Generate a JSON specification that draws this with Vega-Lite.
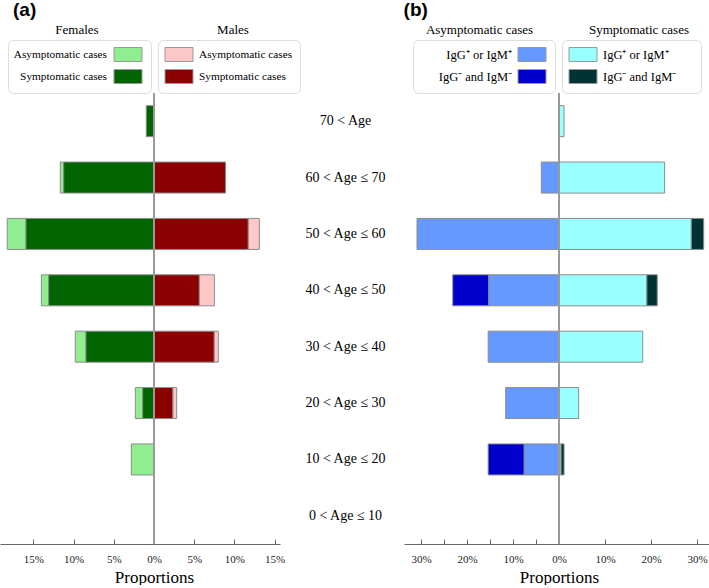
{
  "$schema": "https://vega.github.io/schema/vega-lite/v6.json",
  "padding": 0,
  "autosize": {"type": "pad"},
  "config": {
    "view": {"stroke": null},
    "font": "Liberation Serif",
    "axis": {"domainColor": "#666", "tickColor": "#666", "labelFont": "Liberation Serif", "labelFontSize": 11, "labelColor": "#222", "titleFont": "Liberation Serif", "titleFontSize": 17, "titleFontWeight": "normal", "titleColor": "#000", "grid": false, "labelFlush": false, "labelOverlap": false},
    "legend": {"orient": "none", "direction": "vertical", "strokeColor": "#dddddd", "cornerRadius": 5, "padding": 7, "rowPadding": 3, "symbolType": "M-2,-1H2V1H-2Z", "symbolSize": 196, "symbolStrokeColor": "#999999", "symbolStrokeWidth": 1, "symbolOpacity": 1, "labelFont": "Liberation Serif", "labelFontSize": 11.3, "labelColor": "#000"},
    "title": {"font": "Liberation Serif", "fontSize": 13, "fontWeight": "normal", "color": "#000"}
  },
  "datasets": {
    "a": [
      {"sex": "Female", "age": "70 < Age", "status": "Symptomatic cases", "value": 0.96},
      {"sex": "Female", "age": "60 < Age ≤ 70", "status": "Asymptomatic cases", "value": 0.42},
      {"sex": "Female", "age": "60 < Age ≤ 70", "status": "Symptomatic cases", "value": 11.23},
      {"sex": "Female", "age": "50 < Age ≤ 60", "status": "Asymptomatic cases", "value": 2.33},
      {"sex": "Female", "age": "50 < Age ≤ 60", "status": "Symptomatic cases", "value": 15.92},
      {"sex": "Female", "age": "40 < Age ≤ 50", "status": "Asymptomatic cases", "value": 0.91},
      {"sex": "Female", "age": "40 < Age ≤ 50", "status": "Symptomatic cases", "value": 13.1},
      {"sex": "Female", "age": "30 < Age ≤ 40", "status": "Asymptomatic cases", "value": 1.33},
      {"sex": "Female", "age": "30 < Age ≤ 40", "status": "Symptomatic cases", "value": 8.46},
      {"sex": "Female", "age": "20 < Age ≤ 30", "status": "Asymptomatic cases", "value": 0.91},
      {"sex": "Female", "age": "20 < Age ≤ 30", "status": "Symptomatic cases", "value": 1.41},
      {"sex": "Female", "age": "10 < Age ≤ 20", "status": "Asymptomatic cases", "value": 2.82},
      {"sex": "Male", "age": "60 < Age ≤ 70", "status": "Symptomatic cases", "value": 8.9},
      {"sex": "Male", "age": "50 < Age ≤ 60", "status": "Symptomatic cases", "value": 11.73},
      {"sex": "Male", "age": "50 < Age ≤ 60", "status": "Asymptomatic cases", "value": 1.37},
      {"sex": "Male", "age": "40 < Age ≤ 50", "status": "Symptomatic cases", "value": 5.64},
      {"sex": "Male", "age": "40 < Age ≤ 50", "status": "Asymptomatic cases", "value": 1.87},
      {"sex": "Male", "age": "30 < Age ≤ 40", "status": "Symptomatic cases", "value": 7.5},
      {"sex": "Male", "age": "30 < Age ≤ 40", "status": "Asymptomatic cases", "value": 0.5},
      {"sex": "Male", "age": "20 < Age ≤ 30", "status": "Symptomatic cases", "value": 2.36},
      {"sex": "Male", "age": "20 < Age ≤ 30", "status": "Asymptomatic cases", "value": 0.46}
    ],
    "b": [
      {"group": "Asymptomatic", "age": "60 < Age ≤ 70", "result": "IgG⁺ or IgM⁺", "value": 3.85},
      {"group": "Asymptomatic", "age": "50 < Age ≤ 60", "result": "IgG⁺ or IgM⁺", "value": 30.87},
      {"group": "Asymptomatic", "age": "40 < Age ≤ 50", "result": "IgG⁺ or IgM⁺", "value": 15.3},
      {"group": "Asymptomatic", "age": "40 < Age ≤ 50", "result": "IgG⁻ and IgM⁻", "value": 7.8},
      {"group": "Asymptomatic", "age": "30 < Age ≤ 40", "result": "IgG⁺ or IgM⁺", "value": 15.4},
      {"group": "Asymptomatic", "age": "20 < Age ≤ 30", "result": "IgG⁺ or IgM⁺", "value": 11.6},
      {"group": "Asymptomatic", "age": "10 < Age ≤ 20", "result": "IgG⁺ or IgM⁺", "value": 7.6},
      {"group": "Asymptomatic", "age": "10 < Age ≤ 20", "result": "IgG⁻ and IgM⁻", "value": 7.8},
      {"group": "Symptomatic", "age": "70 < Age", "result": "IgG⁺ or IgM⁺", "value": 1.09},
      {"group": "Symptomatic", "age": "60 < Age ≤ 70", "result": "IgG⁺ or IgM⁺", "value": 22.96},
      {"group": "Symptomatic", "age": "50 < Age ≤ 60", "result": "IgG⁺ or IgM⁺", "value": 28.76},
      {"group": "Symptomatic", "age": "50 < Age ≤ 60", "result": "IgG⁻ and IgM⁻", "value": 2.68},
      {"group": "Symptomatic", "age": "40 < Age ≤ 50", "result": "IgG⁺ or IgM⁺", "value": 19.1},
      {"group": "Symptomatic", "age": "40 < Age ≤ 50", "result": "IgG⁻ and IgM⁻", "value": 2.25},
      {"group": "Symptomatic", "age": "30 < Age ≤ 40", "result": "IgG⁺ or IgM⁺", "value": 18.2},
      {"group": "Symptomatic", "age": "20 < Age ≤ 30", "result": "IgG⁺ or IgM⁺", "value": 4.27},
      {"group": "Symptomatic", "age": "10 < Age ≤ 20", "result": "IgG⁺ or IgM⁺", "value": 0.45},
      {"group": "Symptomatic", "age": "10 < Age ≤ 20", "result": "IgG⁻ and IgM⁻", "value": 0.65}
    ]
  },
  "resolve": {"scale": {"color": "independent"}},
  "spacing": 3,
  "hconcat": [
    {
      "title": {"text": "(a)", "anchor": "start", "font": "Liberation Sans", "fontSize": 19, "fontWeight": "bold", "dx": 13, "offset": 4},
      "bounds": "flush",
      "spacing": 0,
      "resolve": {"scale": {"color": "independent"}},
      "hconcat": [
        {
          "title": {"text": "Females", "anchor": "middle", "frame": "group", "offset": 3},
          "width": 154,
          "height": 451,
          "data": {"name": "a"},
          "transform": [{"filter": "datum.sex === 'Female'"}],
          "mark": {"type": "bar", "stroke": "#8c8c8c", "strokeWidth": 1},
          "encoding": {
            "y": {"field": "age", "type": "nominal", "axis": null, "scale": {"domain": ["70 < Age", "60 < Age ≤ 70", "50 < Age ≤ 60", "40 < Age ≤ 50", "30 < Age ≤ 40", "20 < Age ≤ 30", "10 < Age ≤ 20", "0 < Age ≤ 10"], "paddingInner": 0.45, "paddingOuter": 0.225}},
            "x": {"field": "value", "type": "quantitative", "stack": "zero", "scale": {"domain": [0, 19.15], "reverse": true, "nice": false, "zero": true}, "axis": {"values": [5, 10, 15], "labelExpr": "datum.value + '%'", "title": null, "tickSize": -5, "labelPadding": 14, "labelFont": "Liberation Serif", "labelFontSize": 11}},
            "color": {"field": "status", "type": "nominal", "scale": {"domain": ["Asymptomatic cases", "Symptomatic cases"], "range": ["#90EE90", "#006400"]}, "legend": {"title": null, "legendX": 8, "legendY": -53, "labelAlign": "right", "labelOffset": -28.5, "symbolOffset": 105.5}},
            "order": {"field": "status", "sort": "descending"}
          }
        },
        {
          "title": {"text": "Males", "anchor": "middle", "frame": "group", "offset": 3, "dx": 16},
          "width": 126,
          "height": 451,
          "data": {"name": "a"},
          "transform": [{"filter": "datum.sex === 'Male'"}],
          "layer": [
            {
              "mark": {"type": "bar", "stroke": "#8c8c8c", "strokeWidth": 1},
              "encoding": {
                "y": {"field": "age", "type": "nominal", "axis": null, "scale": {"domain": ["70 < Age", "60 < Age ≤ 70", "50 < Age ≤ 60", "40 < Age ≤ 50", "30 < Age ≤ 40", "20 < Age ≤ 30", "10 < Age ≤ 20", "0 < Age ≤ 10"], "paddingInner": 0.45, "paddingOuter": 0.225}},
                "x": {"field": "value", "type": "quantitative", "stack": "zero", "scale": {"domain": [0, 15.67], "nice": false}, "axis": {"values": [0, 5, 10, 15], "labelExpr": "datum.value + '%'", "title": "Proportions", "titleAnchor": "start", "titleAlign": "center", "titlePadding": 5, "tickSize": -5, "labelPadding": 14, "labelFont": "Liberation Serif", "labelFontSize": 11, "titleFont": "Liberation Serif", "titleFontSize": 17, "titleFontWeight": "normal"}},
                "color": {"field": "status", "type": "nominal", "scale": {"domain": ["Asymptomatic cases", "Symptomatic cases"], "range": ["#FFC8C8", "#8B0000"]}, "legend": {"title": null, "legendX": 4, "legendY": -53, "labelOffset": 12.5, "symbolOffset": 6.5}},
                "order": {"field": "status", "sort": "descending"}
              }
            },
            {
              "mark": {"type": "rule", "color": "#9a9a9a", "strokeWidth": 1},
              "encoding": {"x": {"datum": 0}}
            }
          ]
        }
      ]
    },
    {
      "title": {"text": "(b)", "anchor": "start", "font": "Liberation Sans", "fontSize": 19, "fontWeight": "bold", "dx": 99, "offset": 4},
      "bounds": "flush",
      "spacing": 0,
      "resolve": {"scale": {"color": "independent"}},
      "hconcat": [
        {
          "title": {"text": "Asymptomatic cases", "anchor": "middle", "frame": "group", "offset": 3, "dx": -2},
          "width": 155,
          "height": 451,
          "data": {"name": "b"},
          "transform": [{"filter": "datum.group === 'Asymptomatic'"}],
          "mark": {"type": "bar", "stroke": "#8c8c8c", "strokeWidth": 1},
          "encoding": {
            "y": {"field": "age", "type": "nominal", "title": null, "axis": {"domain": false, "ticks": false, "labelAlign": "center", "labelBaseline": "middle", "labelPadding": 59, "labelFont": "Liberation Serif", "labelFontSize": 14, "labelColor": "#000"}, "scale": {"domain": ["70 < Age", "60 < Age ≤ 70", "50 < Age ≤ 60", "40 < Age ≤ 50", "30 < Age ≤ 40", "20 < Age ≤ 30", "10 < Age ≤ 20", "0 < Age ≤ 10"], "paddingInner": 0.45, "paddingOuter": 0.225}},
            "x": {"field": "value", "type": "quantitative", "stack": "zero", "scale": {"domain": [0, 33.7], "reverse": true, "nice": false}, "axis": {"values": [0, 5, 10, 15, 20, 25, 30], "labelExpr": "datum.value % 10 == 0 && datum.value > 0 ? datum.value + '%' : ''", "title": null, "tickSize": -5, "labelPadding": 14, "labelFont": "Liberation Serif", "labelFontSize": 11}},
            "color": {"field": "result", "type": "nominal", "scale": {"domain": ["IgG⁺ or IgM⁺", "IgG⁻ and IgM⁻"], "range": ["#6699FF", "#0000CC"]}, "legend": {"title": null, "legendX": 9, "legendY": -53, "labelFontSize": 12.5, "labelAlign": "right", "labelOffset": -27.5, "symbolOffset": 104.5}},
            "order": {"field": "result", "sort": "ascending"}
          }
        },
        {
          "title": {"text": "Symptomatic cases", "anchor": "middle", "frame": "group", "offset": 3, "dx": 5},
          "width": 150,
          "height": 451,
          "data": {"name": "b"},
          "transform": [{"filter": "datum.group === 'Symptomatic'"}],
          "layer": [
            {
              "mark": {"type": "bar", "stroke": "#8c8c8c", "strokeWidth": 1},
              "encoding": {
                "y": {"field": "age", "type": "nominal", "axis": null, "scale": {"domain": ["70 < Age", "60 < Age ≤ 70", "50 < Age ≤ 60", "40 < Age ≤ 50", "30 < Age ≤ 40", "20 < Age ≤ 30", "10 < Age ≤ 20", "0 < Age ≤ 10"], "paddingInner": 0.45, "paddingOuter": 0.225}},
                "x": {"field": "value", "type": "quantitative", "stack": "zero", "scale": {"domain": [0, 32.6], "nice": false}, "axis": {"values": [0, 5, 10, 15, 20, 25, 30], "labelExpr": "datum.value % 10 == 0 ? datum.value + '%' : ''", "title": "Proportions", "titleAnchor": "start", "titleAlign": "center", "titlePadding": 5, "tickSize": -5, "labelPadding": 14, "labelFont": "Liberation Serif", "labelFontSize": 11, "titleFont": "Liberation Serif", "titleFontSize": 17, "titleFontWeight": "normal"}},
                "color": {"field": "result", "type": "nominal", "scale": {"domain": ["IgG⁺ or IgM⁺", "IgG⁻ and IgM⁻"], "range": ["#99FFFF", "#003333"]}, "legend": {"title": "M", "titleOrient": "right", "titleFontSize": 14, "titleOpacity": 0, "titlePadding": 4, "legendX": 3, "legendY": -53, "labelFontSize": 12.5, "labelOffset": 12.5, "symbolOffset": 6.5}},
                "order": {"field": "result", "sort": "ascending"}
              }
            },
            {
              "mark": {"type": "rule", "color": "#9a9a9a", "strokeWidth": 1},
              "encoding": {"x": {"datum": 0}}
            }
          ]
        }
      ]
    }
  ]
}
